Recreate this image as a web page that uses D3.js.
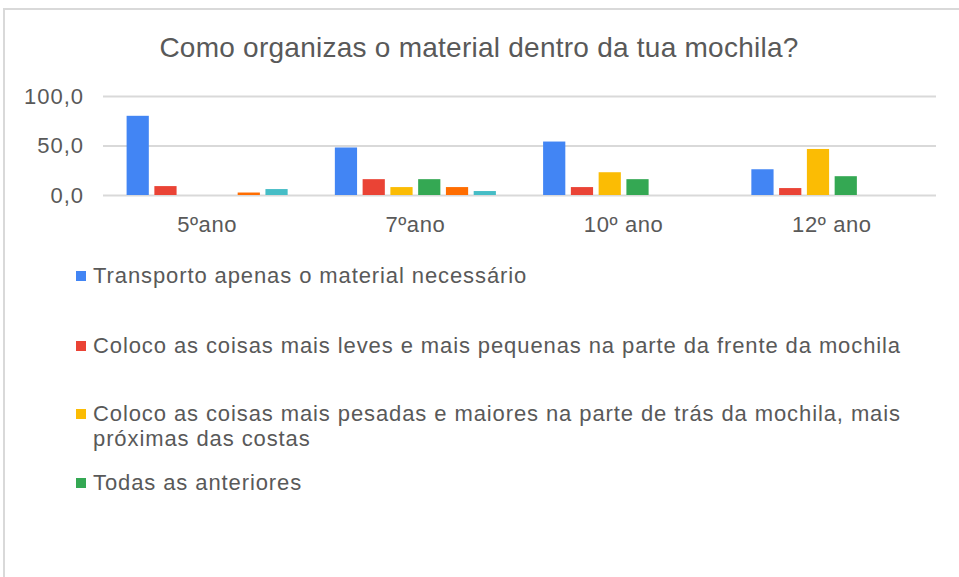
<!DOCTYPE html>
<html>
<head>
<meta charset="utf-8">
<script src="https://cdn.jsdelivr.net/npm/d3@7"></script>
<style>
  body { margin: 0; background: #fff; }
  text { font-family: "Liberation Sans", Arial, sans-serif; fill: #595959; }
</style>
</head>
<body>
<div id="chart"></div>
<script>
// Data
const categories = ["5ºano", "7ºano", "10º ano", "12º ano"];
const seriesNames = [
    "Transporto apenas o material necessário",
    "Coloco as coisas mais leves e mais pequenas na parte da frente da mochila",
    "Coloco as coisas mais pesadas e maiores na parte de trás da mochila, mais próximas das costas",
    "Todas as anteriores",
    "Série 5",
    "Série 6"
];
const transporto = [80, 48, 54, 26];
const maisLeves = [9, 16, 8, 7];
const maisPesadas = [0, 8, 23, 46.5];
const todas = [0, 16, 16, 19];
const serie5 = [2.5, 8, 0, 0];
const serie6 = [6, 4, 0, 0];
const yTicks = [0, 50, 100];

const values = [transporto, maisLeves, maisPesadas, todas, serie5, serie6];
const colors = ["#4285F4", "#EA4335", "#FBBC04", "#34A853", "#FF6D01", "#46BDC6"];

const W = 959, H = 577;
const margin = { top: 96, left: 103, right: 23 };
const plotBottom = 195;

const svg = d3.select("#chart").append("svg")
    .attr("width", W)
    .attr("height", H);

// chart frame (only top and left edges are visible in the crop)
svg.append("rect")
    .attr("x", 4).attr("y", 9)
    .attr("width", W + 10).attr("height", H + 10)
    .attr("fill", "#fff")
    .attr("stroke", "#d9d9d9")
    .attr("stroke-width", 2);

// Title
svg.append("text")
    .attr("x", 479)
    .attr("y", 57)
    .attr("text-anchor", "middle")
    .style("font-size", "28px")
    .style("letter-spacing", "0.25px")
    .text("Como organizas o material dentro da tua mochila?");

// Scales
const x0 = d3.scaleBand()
    .domain(categories)
    .range([margin.left, W - margin.right]);

const x1 = d3.scaleBand()
    .domain(d3.range(values.length))
    .range([0, x0.bandwidth()])
    .paddingInner(0.2)
    .paddingOuter(0.85);

const y = d3.scaleLinear()
    .domain([0, 100])
    .range([plotBottom, margin.top]);

// Gridlines + y labels
const yAxis = svg.append("g")
    .attr("transform", `translate(${margin.left},0)`)
    .call(d3.axisLeft(y).tickValues(yTicks)
        .tickSize(-(W - margin.right - margin.left))
        .tickPadding(19)
        .tickFormat(d => d3.format(".1f")(d).replace(".", ",")));
yAxis.select(".domain").remove();
yAxis.selectAll("line").attr("stroke", "#d9d9d9").attr("stroke-width", 2);
yAxis.selectAll("text")
    .style("font-size", "22px")
    .style("letter-spacing", "1px")
    .style("font-family", "'Liberation Sans', Arial, sans-serif")
    .attr("fill", "#595959");

// Bars
const groups = svg.append("g")
    .selectAll("g")
    .data(categories)
    .join("g")
    .attr("transform", d => `translate(${x0(d)},0)`);

groups.selectAll("rect")
    .data((d, ci) => values.map((s, si) => ({ si, v: s[ci] })).filter(d => d.v > 0))
    .join("rect")
    .attr("x", d => x1(d.si))
    .attr("y", d => y(d.v))
    .attr("width", x1.bandwidth())
    .attr("height", d => y(0) - y(d.v))
    .attr("fill", d => colors[d.si]);

// X labels
svg.append("g")
    .selectAll("text")
    .data(categories)
    .join("text")
    .attr("x", d => x0(d) + x0.bandwidth() / 2)
    .attr("y", 232)
    .attr("text-anchor", "middle")
    .style("font-size", "22px")
    .style("letter-spacing", "0.6px")
    .text(d => d);

// Legend (four named series)
const legendLines = [
    [seriesNames[0]],
    [seriesNames[1]],
    ["Coloco as coisas mais pesadas e maiores na parte de trás da mochila, mais", "próximas das costas"],
    [seriesNames[3]]
];
const legendBaselines = [283, 353, 421, 490];

const legend = svg.append("g");
legendLines.forEach((lines, i) => {
    const row = legend.append("g")
        .attr("transform", `translate(76, ${legendBaselines[i]})`);
    row.append("rect")
        .attr("x", 0).attr("y", -12)
        .attr("width", 10).attr("height", 10)
        .attr("fill", colors[i]);
    lines.forEach((l, j) => {
        row.append("text")
            .attr("x", 17)
            .attr("y", j * 25)
            .style("font-size", "22px")
            .style("letter-spacing", "0.9px")
            .text(l);
    });
});
</script>
</body>
</html>
